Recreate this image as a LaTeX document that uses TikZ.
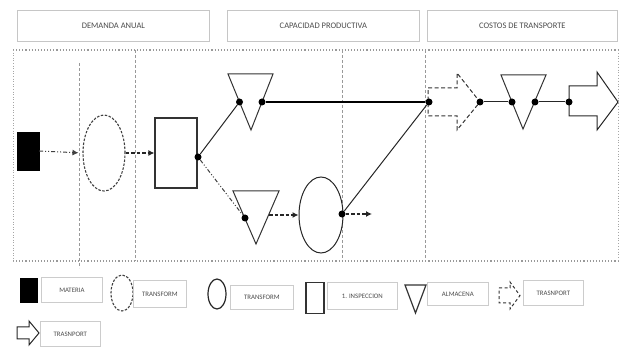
\documentclass[tikz,border=0pt]{standalone}
\usepackage{fontspec}
\setmainfont{Carlito}
\usetikzlibrary{shapes.geometric,arrows.meta,shadows}
\begin{document}
\begin{tikzpicture}[x=1pt,y=-1pt,
  hdr/.style={draw=gray!45,line width=0.8pt,fill=white,text=gray!60!black,
    font=\fontsize{8.5}{10}\selectfont,inner sep=0,anchor=north west,
    drop shadow={opacity=0.15,shadow xshift=0.8pt,shadow yshift=-0.8pt}},
  lgd/.style={draw=gray!40,line width=0.7pt,fill=white,text=gray!60!black,
    font=\fontsize{6.8}{8}\selectfont,inner sep=0,anchor=north west,
    drop shadow={opacity=0.12,shadow xshift=0.6pt,shadow yshift=-0.6pt}},
  vline/.style={draw=gray!80,line width=0.8pt,dash pattern=on 3pt off 2pt},
  matbox/.style={draw=black,fill=black,inner sep=0},
  dell/.style={ellipse,draw=black!75,line width=1.1pt,dash pattern=on 2.5pt off 1.5pt,inner sep=0},
  sell/.style={ellipse,draw=black!85,line width=1pt,inner sep=0},
  rbox/.style={draw=black!80,line width=1.2pt,inner sep=0},
  tri/.style={draw=black!80,line width=1pt,line join=miter},
  dot/.style={circle,fill=black,inner sep=0,minimum size=7pt},
  solidc/.style={draw=black!85,line width=1pt},
  heavyc/.style={draw=black,line width=1.6pt},
  dashdotc/.style={draw=black!75,line width=1pt,dash pattern=on 4pt off 2pt on 1pt off 2pt on 1pt off 2pt},
  thickdash/.style={draw=black!85,line width=1.3pt,dash pattern=on 3.5pt off 2pt},
  tip/.style={-{Latex[length=6pt,width=6pt]}},
  darrow/.style={draw=black!80,line width=1pt,dash pattern=on 4pt off 2.5pt,line join=miter},
  barrow/.style={draw=black!85,line width=1pt,line join=miter}
]
\useasboundingbox (0,0) rectangle (622,347);

% header boxes
\node[hdr,minimum width=192pt,minimum height=31pt] (h1) at (17,10) {DEMANDA ANUAL};
\node[hdr,minimum width=192pt,minimum height=31pt] (h2) at (227,10) {CAPACIDAD PRODUCTIVA};
\node[hdr,minimum width=190pt,minimum height=31pt] (h3) at (427,10) {COSTOS DE TRANSPORTE};

% frame
\draw[gray!80,line width=1.1pt,dotted] (13,50) -- (618,50);
\draw[gray!80,line width=1.1pt,dotted] (13,261) -- (618,261);
\draw[gray!70,line width=0.6pt,dotted] (13,50) -- (13,261);
\draw[gray!70,line width=0.8pt,dotted] (618,50) -- (618,261);

% vertical dashed lines
\draw[vline] (79,63) -- (79,268);
\draw[vline] (135,50) -- (135,261);
\draw[vline] (342,50) -- (342,261);
\draw[vline] (425,50) -- (425,261);

% main shapes
\node[matbox,minimum width=22pt,minimum height=38pt] (m) at (28,151) {};
\node[dell,minimum width=42pt,minimum height=76pt] (e1) at (104,153) {};
\node[rbox,minimum width=42pt,minimum height=70pt] (r1) at (176,153) {};
\draw[tri] (228,74) -- (273,74) -- (251,130) -- cycle;
\draw[tri] (233,191) -- (279,191) -- (256,244) -- cycle;
\node[sell,minimum width=44pt,minimum height=76pt] (e2) at (321,215) {};
\draw[darrow] (428,88) -- (457,88) -- (457,73) -- (480,102) -- (457,130) -- (457,116) -- (428,116) -- cycle;
\draw[tri] (501,75) -- (546,75) -- (523,129) -- cycle;
\draw[barrow] (569,86) -- (597,86) -- (597,72) -- (618,102) -- (597,130) -- (597,116) -- (569,116) -- cycle;

% dots and coordinates
\node[dot] (d1) at (198,157) {};
\node[dot] (t1a) at (239.5,102) {};
\node[dot] (t1b) at (262,102) {};
\node[dot] (d2) at (429,102) {};
\node[dot] (t2a) at (245,218) {};
\coordinate (t2b) at (269,215);
\node[dot] (d3) at (342,214) {};
\coordinate (end1) at (372,214);
\node[dot] (d4) at (480,102) {};
\node[dot] (t3a) at (512,102) {};
\node[dot] (t3b) at (535,102) {};
\node[dot] (d5) at (569,102) {};

% connectors
\draw[dashdotc,tip,shorten >=4pt] (m.east) -- (e1.west);
\draw[thickdash,tip] (e1.east) -- (r1.west);
\draw[solidc] (d1) -- (t1a);
\draw[heavyc] (t1b) -- (d2);
\draw[dashdotc] (d1) -- (t2a);
\draw[thickdash,tip] (t2b) -- (e2.west);
\draw[thickdash,tip] (d3) -- (end1);
\draw[solidc] (d3) -- (d2);
\draw[solidc] (d4) -- (t3a);
\draw[solidc] (t3b) -- (d5);

% legend
\node[matbox,minimum width=17pt,minimum height=24pt,anchor=north west] (lm) at (20,278) {};
\node[lgd,minimum width=61pt,minimum height=25pt] (lt1) at (41,277) {MATERIA};
\node[dell,minimum width=22pt,minimum height=36pt] (le1) at (122,293) {};
\node[lgd,minimum width=53pt,minimum height=27pt] (lt2) at (133,280) {TRANSFORM};
\node[sell,line width=1.2pt,minimum width=18pt,minimum height=30pt] (le2) at (217,294) {};
\node[lgd,minimum width=63pt,minimum height=24pt] (lt3) at (230,285) {TRANSFORM};
\node[rbox,line width=1.5pt,minimum width=18pt,minimum height=31pt,anchor=north west] (lr) at (305,282) {};
\node[lgd,minimum width=70pt,minimum height=27pt] (lt4) at (327,282) {1. INSPECCION};
\draw[tri,line width=1.2pt] (405,285) -- (426,285) -- (415.5,313) -- cycle;
\node[lgd,minimum width=61pt,minimum height=23pt] (lt5) at (427,282) {ALMACENA};
\draw[darrow,line width=1pt,dash pattern=on 3pt off 2.5pt] (499,288) -- (510,288) -- (510,282) -- (520,295.5) -- (510,309) -- (510,303) -- (499,303) -- cycle;
\node[lgd,minimum width=60pt,minimum height=25pt] (lt6) at (523,280) {TRASNPORT};
\draw[barrow] (17,327) -- (29,327) -- (29,321) -- (39,333) -- (29,345) -- (29,339) -- (17,339) -- cycle;
\node[lgd,minimum width=60pt,minimum height=25pt] (lt7) at (40,321) {TRASNPORT};
\end{tikzpicture}
\end{document}
